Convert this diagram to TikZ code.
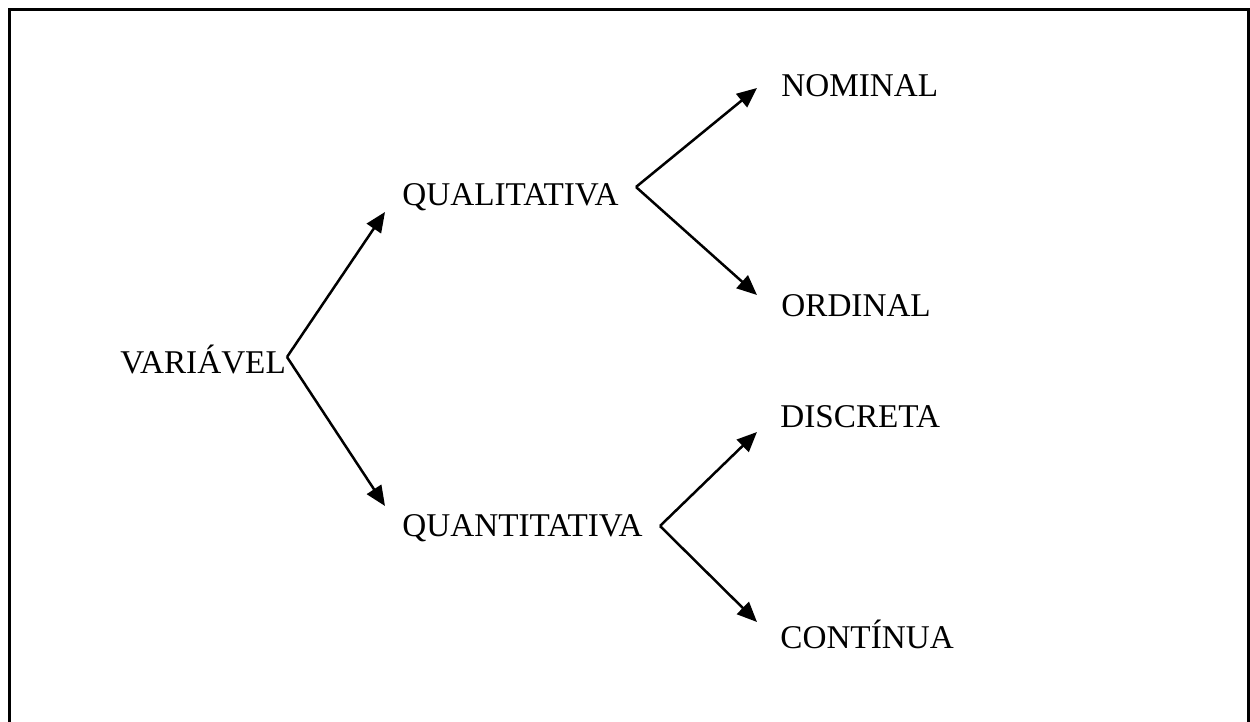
\documentclass[tikz,border=0pt]{standalone}
\usepackage{fontspec}
\setmainfont{Liberation Serif}
\usetikzlibrary{arrows.meta}
\begin{document}
\begin{tikzpicture}[x=0.5pt,y=-0.5pt,
  label/.style={anchor=base west,inner sep=0pt,font=\fontsize{16.6}{20}\selectfont},
  branch/.style={line width=1.25pt,-{Triangle[length=10pt,width=8.5pt]}}]
\useasboundingbox (0,0) rectangle (1250,722);
\clip (0,0) rectangle (1250,722);
% open frame (runs off the bottom edge)
\draw[line width=1.5pt] (9.5,740) -- (9.5,9.5) -- (1248.5,9.5) -- (1248.5,740);

% labels
\node[label] (var)   at (120,373) {VARIÁVEL};
\node[label] (qual)  at (402,206) {QUALITATIVA};
\node[label] (quant) at (402,537) {QUANTITATIVA};
\node[label] (nom)   at (781,97)  {NOMINAL};
\node[label] (ord)   at (781,317) {ORDINAL};
\node[label] (disc)  at (780,428) {DISCRETA};
\node[label] (cont)  at (780,648) {CONTÍNUA};

% branch points and arrow ends
\coordinate (vvar)   at (287,357);
\coordinate (vqual)  at (636,187);
\coordinate (vquant) at (660,526);
\coordinate (tqual)  at (385,212);
\coordinate (tquant) at (385,506);
\coordinate (tnom)   at (757,88);
\coordinate (tord)   at (757,295);
\coordinate (tdisc)  at (757,432);
\coordinate (tcont)  at (757,622);

\draw[branch] (vvar) -- (tqual);
\draw[branch] (vvar) -- (tquant);
\draw[branch] (vqual) -- (tnom);
\draw[branch] (vqual) -- (tord);
\draw[branch] (vquant) -- (tdisc);
\draw[branch] (vquant) -- (tcont);
\end{tikzpicture}
\end{document}
